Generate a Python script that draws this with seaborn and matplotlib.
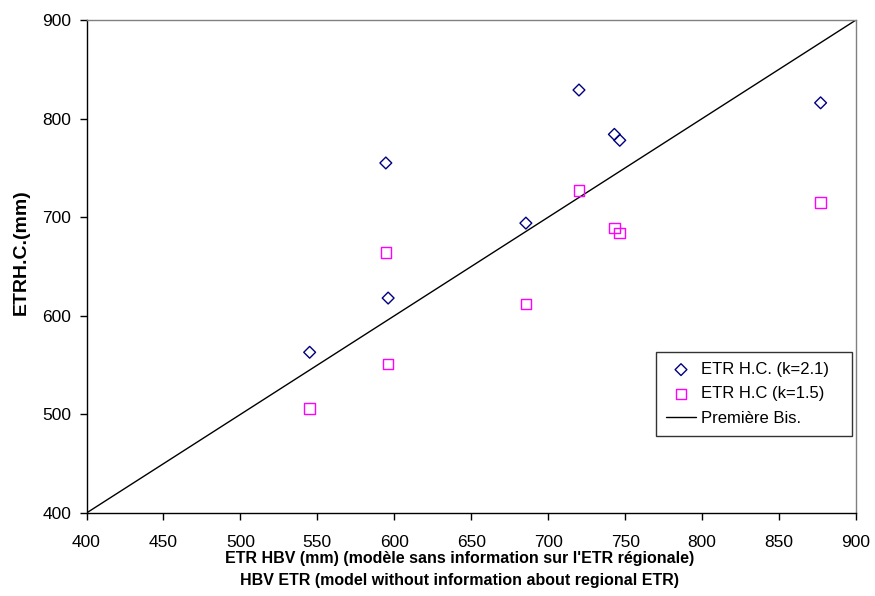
import matplotlib
matplotlib.use("Agg")
import matplotlib.pyplot as plt
import seaborn as sns
import pandas as pd
import numpy as np

# Data
etr_hbv = [545, 594.5, 596, 685.5, 720, 743, 746.5, 877]
etr_hc_k21 = [563, 755, 618, 694, 829, 784, 778, 816]
etr_hc_k15 = [506, 664, 551, 612, 727, 689, 684, 715]
bisector_x = [400, 900]
bisector_y = [400, 900]

label_k21 = "ETR H.C. (k=2.1)"
label_k15 = "ETR H.C (k=1.5)"
label_bis = "Première Bis."

sns.set_theme(style="white")
plt.rcParams["font.family"] = ["Liberation Sans", "DejaVu Sans"]
plt.rcParams["text.color"] = "black"
plt.rcParams["axes.labelcolor"] = "black"

df21 = pd.DataFrame({"x": etr_hbv, "y": etr_hc_k21})
df15 = pd.DataFrame({"x": etr_hbv, "y": etr_hc_k15})
dfb = pd.DataFrame({"x": bisector_x, "y": bisector_y})

fig = plt.figure(figsize=(8.75, 5.96), dpi=100)
ax = fig.add_axes([86.5 / 875, 1 - 513 / 596, (856 - 86.5) / 875, (513 - 20) / 596])

sns.scatterplot(data=df21, x="x", y="y", ax=ax, marker="D", s=36,
                facecolor="none", edgecolor="#000080", linewidth=1.0,
                label=label_k21, zorder=3)
sns.scatterplot(data=df15, x="x", y="y", ax=ax, marker="s", s=58,
                facecolor="none", edgecolor="#FF00FF", linewidth=1.0,
                label=label_k15, zorder=3)
sns.lineplot(data=dfb, x="x", y="y", ax=ax, color="black", linewidth=1.0,
             label=label_bis, zorder=2)

ax.set_xlim(400, 900)
ax.set_ylim(400, 900)
ax.set_xticks(np.arange(400, 901, 50))
ax.set_yticks(np.arange(400, 901, 100))

ax.tick_params(axis="both", direction="out", length=5, width=1, color="black",
               labelsize=12.5, labelcolor="black", left=True, bottom=True)
ax.tick_params(axis="x", pad=11)
ax.tick_params(axis="y", pad=6)

for side in ["left", "bottom"]:
    ax.spines[side].set_color("black")
    ax.spines[side].set_linewidth(1.0)
for side in ["top", "right"]:
    ax.spines[side].set_color("#808080")
    ax.spines[side].set_linewidth(1.0)

ax.set_xlabel("ETR HBV (mm) (modèle sans information sur l'ETR régionale)\n"
              "HBV ETR (model without information about regional ETR)",
              fontsize=11.5, fontweight="bold", linespacing=1.55, labelpad=0,
              color="black")
ax.xaxis.set_label_coords((460 - 86.5) / (856 - 86.5), -(569.5 - 513) / 493)
ax.xaxis.label.set_va("center")

ax.set_ylabel("ETRH.C.(mm)", fontsize=14, fontweight="bold", color="black")
ax.yaxis.set_label_coords(-(86.5 - 21) / (856 - 86.5), (513 - 252) / 493)
ax.yaxis.label.set_va("center")

leg = ax.legend(loc="upper left",
                bbox_to_anchor=(656 / 875, 1 - 439 / 596, 196 / 875, 87 / 596),
                bbox_transform=fig.transFigure, borderaxespad=0, mode="expand",
                frameon=True, fancybox=False, shadow=False, fontsize=12,
                handlelength=1.8, handletextpad=0.3, borderpad=0.6,
                labelspacing=0.56)
leg.get_frame().set_edgecolor("black")
leg.get_frame().set_linewidth(1.0)
leg.get_frame().set_facecolor("white")
for t in leg.get_texts():
    t.set_color("black")

fig.savefig("out.png", dpi=100)
